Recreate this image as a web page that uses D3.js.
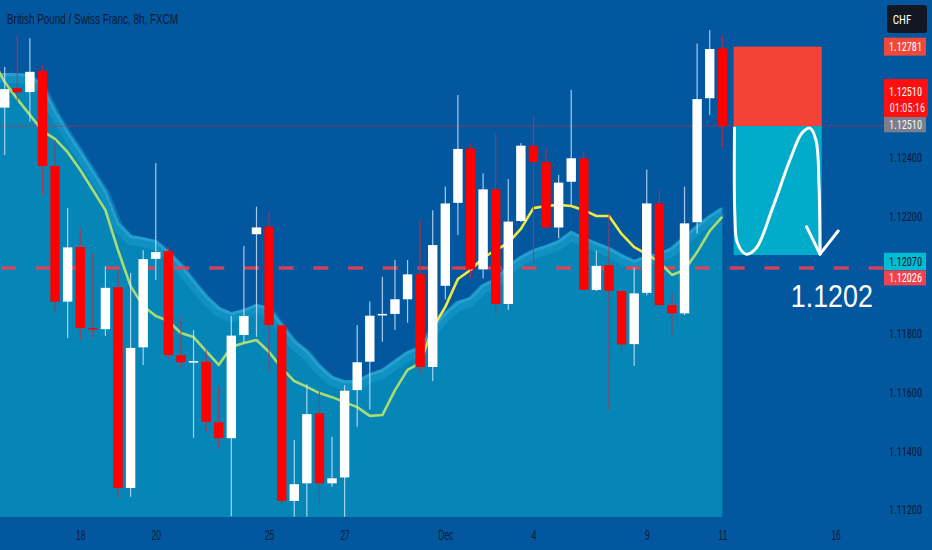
<!DOCTYPE html>
<html><head><meta charset="utf-8">
<script src="https://cdn.jsdelivr.net/npm/d3@7"></script>
<style>body{margin:0;background:#02579e;overflow:hidden}svg{display:block}</style>
</head><body><svg id="c" width="932" height="550"></svg>
<script>
// ---- DATA ----
const title = "British Pound / Swiss Franc, 8h, FXCM";
const opens  = [1.12573,1.12639,1.12626,1.12698,1.12374,1.11911,1.12097,1.11821,1.11817,1.11960,1.11275,1.11755,1.12057,1.12083,1.11728,1.11705,1.11706,1.11499,1.11445,1.11797,1.12141,1.12167,1.11830,1.11231,1.11291,1.11530,1.11291,1.11311,1.11609,1.11706,1.11865,1.11869,1.11919,1.12004,1.11688,1.11965,1.12248,1.12433,1.12021,1.12294,1.11903,1.12186,1.12443,1.12387,1.12164,1.12320,1.12400,1.11951,1.12035,1.11947,1.11766,1.11941,1.12246,1.11899,1.11871,1.12182,1.12605,1.12775];
const highs  = [1.12712,1.12821,1.12810,1.12718,1.12462,1.12230,1.12162,1.12077,1.12032,1.12022,1.12009,1.12087,1.12383,1.12098,1.11855,1.11814,1.11746,1.11621,1.11862,1.12101,1.12235,1.12218,1.11830,1.11439,1.11629,1.11604,1.11450,1.11626,1.11831,1.11911,1.11996,1.12053,1.12053,1.12189,1.12223,1.12304,1.12616,1.12451,1.12349,1.12485,1.12329,1.12451,1.12548,1.12434,1.12343,1.12633,1.12422,1.12085,1.12213,1.11947,1.12027,1.12362,1.12292,1.11939,1.12303,1.12792,1.12838,1.12821];
const lows   = [1.12411,1.12593,1.12525,1.12275,1.11876,1.11787,1.11780,1.11787,1.11794,1.11241,1.11245,1.11695,1.11985,1.11719,1.11684,1.11446,1.11467,1.11410,1.11179,1.11770,1.11791,1.11672,1.11217,1.11177,1.11177,1.11223,1.11279,1.11177,1.11484,1.11543,1.11774,1.11814,1.11839,1.11666,1.11640,1.11919,1.12138,1.11990,1.11990,1.11865,1.11882,1.12183,1.12042,1.12162,1.12127,1.12241,1.11947,1.11947,1.11541,1.11735,1.11691,1.11933,1.11896,1.11797,1.11865,1.12144,1.12548,1.12434];
const closes = [1.12636,1.12625,1.12695,1.12374,1.11911,1.12096,1.11821,1.11816,1.11958,1.11275,1.11753,1.12056,1.12080,1.11729,1.11704,1.11708,1.11501,1.11445,1.11795,1.11862,1.12164,1.11831,1.11231,1.11288,1.11527,1.11291,1.11308,1.11607,1.11704,1.11863,1.11869,1.11919,1.12004,1.11688,1.12104,1.12246,1.12432,1.12021,1.12294,1.11903,1.12184,1.12443,1.12387,1.12164,1.12317,1.12400,1.11951,1.12033,1.11948,1.11765,1.11939,1.12246,1.11899,1.11871,1.12178,1.12602,1.12773,1.12510];
// moving average & channel (index -1 .. 57)
const maValues = [1.12738,1.12660,1.12602,1.12548,1.12493,1.12466,1.12421,1.12360,1.12292,1.12223,1.12087,1.11964,1.11896,1.11862,1.11845,1.11804,1.11790,1.11742,1.11695,1.11756,1.11770,1.11780,1.11739,1.11684,1.11640,1.11620,1.11599,1.11585,1.11568,1.11551,1.11521,1.11524,1.11609,1.11678,1.11701,1.11821,1.11893,1.11988,1.12019,1.12060,1.12087,1.12111,1.12159,1.12230,1.12237,1.12241,1.12237,1.12223,1.12203,1.12203,1.12142,1.12097,1.12073,1.12046,1.12002,1.12019,1.12080,1.12152,1.12200];
const bandValues = [1.12691,1.12691,1.12691,1.12688,1.12650,1.12565,1.12493,1.12428,1.12360,1.12292,1.12183,1.12138,1.12131,1.12121,1.12084,1.12039,1.11985,1.11933,1.11893,1.11875,1.11886,1.11903,1.11893,1.11835,1.11780,1.11746,1.11695,1.11657,1.11643,1.11643,1.11667,1.11681,1.11712,1.11742,1.11759,1.11824,1.11875,1.11913,1.11927,1.11971,1.11991,1.12036,1.12067,1.12090,1.12104,1.12121,1.12152,1.12131,1.12114,1.12097,1.12073,1.12053,1.12070,1.12077,1.12097,1.12135,1.12172,1.12206,1.12234];
const xTickIdx = [6,12,21,27,35,42,51,57,66];
const xTickLabels = ["18","20","25","27","Dec","4","9","11","16"];
const yTicks = [1.112,1.114,1.116,1.118,1.122,1.124];
const yTickLabels = ["1.11200","1.11400","1.11600","1.11800","1.12200","1.12400"];
const lastPrice = 1.12510, stopPrice = 1.12781, targetPrice = 1.12070, supportPrice = 1.12026;
const targetText = "1.1202";
const countdown = "01:05:16";
const currency = "CHF";
const boxIdx = [57.9, 64.9];
const arrowIdx   = [57.97,58.0,58.2,58.9,59.7,60.94,62.37,63.33,63.96,64.44,64.68,64.76];
const arrowPrice = [1.12503,1.12206,1.12111,1.12073,1.12094,1.12224,1.12394,1.12486,1.12503,1.12462,1.12309,1.12073];
const headIdx   = [63.7,64.76,66.2];
const headPrice = [1.12166,1.12073,1.12152];

// ---- SETUP ----
const W=932,H=550, paneB=517, RX=922;
const svg=d3.select('#c');
const x=d3.scaleLinear().domain([0,57]).range([4.7,722.3]);
const y=d3.scaleLinear().domain([1.112,1.124]).range([510,158.3]);
const FONT='"Liberation Sans Narrow","Liberation Sans",Arial,sans-serif';
const FONTN='"Liberation Sans Narrow","Roboto Condensed","DejaVu Sans Condensed",sans-serif';
const cw={'.':0.278,':':0.278,'C':0.722,'H':0.722,'F':0.611,'D':0.722,'e':0.556,'c':0.5};
const tl=(s,size,k)=>s.split('').reduce((a,c)=>a+(cw[c]||0.556),0)*size*(k||0.656);
const LS=13, SX=0.79; // right label font size & horizontal squeeze

svg.append('rect').attr('width',W).attr('height',H).attr('fill','#02579e');
const defs=svg.append('defs');
defs.append('clipPath').attr('id','pane').append('rect').attr('x',0).attr('y',0).attr('width',884).attr('height',paneB);
const g=svg.append('g').attr('clip-path','url(#pane)');

const lineIdx=d3.range(-1,58);
g.append('path').datum(bandValues)
 .attr('d',d3.area().x((d,i)=>x(lineIdx[i])).y0(paneB).y1(d=>y(d)))
 .attr('fill','#0685b7');
g.append('path').datum(bandValues)
 .attr('d',d3.line().x((d,i)=>x(lineIdx[i])).y(d=>y(d)+5))
 .attr('fill','none').attr('stroke','#22a2d2').attr('stroke-opacity',0.42).attr('stroke-width',10);
g.append('path').datum(bandValues)
 .attr('d',d3.line().x((d,i)=>x(lineIdx[i])).y(d=>y(d)+1.5))
 .attr('fill','none').attr('stroke','#3ab4e0').attr('stroke-opacity',0.45).attr('stroke-width',3);

g.append('line').attr('x1',0).attr('x2',884).attr('y1',y(lastPrice)).attr('y2',y(lastPrice))
 .attr('stroke','#c0304a').attr('stroke-opacity',0.6).attr('stroke-width',1);
g.append('line').attr('x1',1).attr('x2',884).attr('y1',y(supportPrice)).attr('y2',y(supportPrice))
 .attr('stroke','#ee3f50').attr('stroke-opacity',0.85).attr('stroke-width',3.5).attr('stroke-dasharray','15,19.7');

const grad=defs.append('linearGradient').attr('id','maG').attr('gradientUnits','userSpaceOnUse')
 .attr('x1',0).attr('x2',W).attr('y1',0).attr('y2',0);
[[0,'#a8dc72'],[422,'#a8dc72'],[440,'#f2e843'],[646,'#f2e843'],[662,'#a8dc72'],[W,'#a8dc72']]
 .forEach(s=>grad.append('stop').attr('offset',s[0]/W).attr('stop-color',s[1]));
g.append('path').datum(maValues)
 .attr('d',d3.line().x((d,i)=>x(lineIdx[i])).y(d=>y(d)))
 .attr('fill','none').attr('stroke','url(#maG)').attr('stroke-width',2.6).attr('stroke-linejoin','round');

const cd=d3.range(58).map(i=>({i,o:opens[i],h:highs[i],l:lows[i],c:closes[i]}));
const bw=9.4;
g.selectAll('.wick').data(cd).join('line')
 .attr('x1',d=>x(d.i)).attr('x2',d=>x(d.i)).attr('y1',d=>y(d.h)).attr('y2',d=>y(d.l))
 .attr('stroke',d=>d.c>=d.o?'#cfe6ff':'#c42a45').attr('stroke-opacity',0.8).attr('stroke-width',1.2);
g.selectAll('.body').data(cd).join('rect')
 .attr('x',d=>x(d.i)-bw/2).attr('width',bw)
 .attr('y',d=>y(Math.max(d.o,d.c))).attr('height',d=>Math.max(1.5,Math.abs(y(d.o)-y(d.c))))
 .attr('fill',d=>d.c>=d.o?'#ffffff':'#ff0000');

g.append('rect').attr('x',x(boxIdx[0])).attr('width',x(boxIdx[1])-x(boxIdx[0]))
 .attr('y',y(stopPrice)).attr('height',y(lastPrice)-y(stopPrice)).attr('fill','#f44336');
g.append('rect').attr('x',x(boxIdx[0])).attr('width',x(boxIdx[1])-x(boxIdx[0]))
 .attr('y',y(lastPrice)).attr('height',y(targetPrice)-y(lastPrice)).attr('fill','#00acc9');
g.append('path').datum(arrowIdx.map((d,i)=>[d,arrowPrice[i]]))
 .attr('d',d3.line().x(d=>x(d[0])).y(d=>y(d[1])).curve(d3.curveCatmullRom))
 .attr('fill','none').attr('stroke','#fff').attr('stroke-width',3).attr('stroke-linecap','round');
g.append('path').datum(headIdx.map((d,i)=>[d,headPrice[i]]))
 .attr('d',d3.line().x(d=>x(d[0])).y(d=>y(d[1])))
 .attr('fill','none').attr('stroke','#fff').attr('stroke-width',3).attr('stroke-linecap','round').attr('stroke-linejoin','round');
svg.append('text').attr('x',x(65.7)).attr('y',y(supportPrice)+39).attr('text-anchor','middle')
 .attr('font-family',FONT).attr('font-size',32).attr('fill','#fff')
 .attr('textLength',82).attr('lengthAdjust','spacingAndGlyphs').text(targetText);

svg.append('text').attr('x',7).attr('y',24).attr('font-family',FONT).attr('font-size',15)
 .attr('fill','#0c1a36').attr('textLength',171).attr('lengthAdjust','spacingAndGlyphs').text(title);

const xa=svg.append('g').attr('transform',`translate(0,${paneB})`)
 .call(d3.axisBottom(x).tickValues(xTickIdx).tickFormat((d,i)=>xTickLabels[i]).tickSize(0).tickPadding(13));
xa.select('.domain').remove();
xa.selectAll('text').attr('font-family',FONT).attr('font-size',14).attr('fill','#0c1a36')
 .attr('textLength',function(){return tl(this.textContent,14,0.6);}).attr('lengthAdjust','spacingAndGlyphs');

// y axis: narrow font squeezed horizontally, right edge at RX
const ya=svg.append('g').attr('transform',`translate(${RX},0)`)
 .call(d3.axisLeft(y).tickValues(yTicks).tickFormat((d,i)=>yTickLabels[i]).tickSize(0).tickPadding(0));
ya.select('.domain').remove();
ya.selectAll('.tick').attr('transform',d=>`translate(0,${y(d)}) scale(${SX},1)`);
ya.selectAll('text').attr('font-family',FONTN).attr('font-size',LS).attr('fill','#0c1a36');

const labels=[
 {p:stopPrice, t:stopPrice.toFixed(5), fill:'#f0493c', col:'#fff', off:0, h:18},
 {p:lastPrice, t:lastPrice.toFixed(5), fill:'#7b7f8b', col:'#f4f4f4', off:-1.5, h:15.5},
 {p:targetPrice, t:targetPrice.toFixed(5), fill:'#00bcd4', col:'#131722', off:6.5, h:17.5},
 {p:supportPrice, t:supportPrice.toFixed(5), fill:'#f0434f', col:'#fff', off:10, h:15}
];
const lg=svg.append('g');
const addText=(str,rx,yy,col)=>{
  lg.append('text').attr('transform',`translate(${rx},${yy}) scale(${SX},1)`).attr('text-anchor','end').attr('font-family',FONTN)
   .attr('font-size',LS).attr('fill',col).text(str);};
labels.forEach(L=>{
  const cy=y(L.p)+L.off;
  lg.append('rect').attr('x',884).attr('width',42).attr('y',cy-L.h/2).attr('height',L.h).attr('fill',L.fill);
  addText(L.t,RX,cy+4.5,L.col);
});
const ct=y(lastPrice)-47;
lg.append('rect').attr('x',884).attr('width',44).attr('y',ct).attr('height',38).attr('fill','#ff1010');
addText(lastPrice.toFixed(5),RX,ct+17,'#fff');
addText(countdown,925,ct+33,'#ffe8e8');
lg.append('rect').attr('x',887).attr('width',40).attr('y',5).attr('height',28).attr('rx',3).attr('fill','#131722');
lg.append('text').attr('transform','translate(902,24) scale(0.85,1)').attr('text-anchor','middle').attr('font-family',FONTN).attr('font-size',13)
 .attr('fill','#fff').text(currency);
</script></body></html>
